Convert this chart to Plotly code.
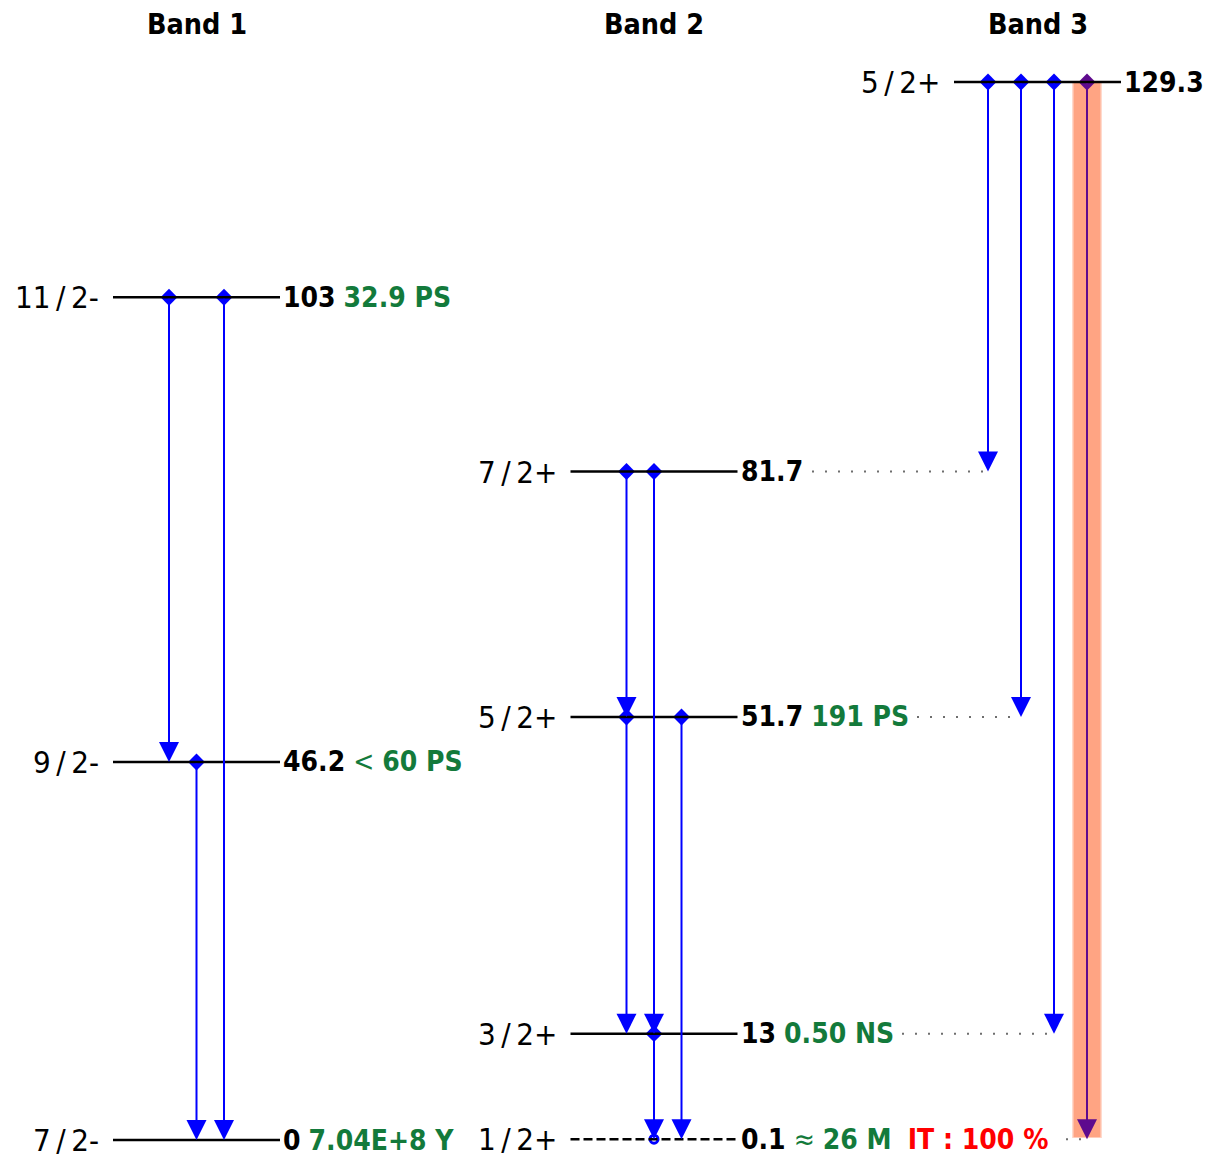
import plotly.graph_objects as go

# ---------------- level scheme data ----------------
band_names = ["Band 1", "Band 2", "Band 3"]

level_band = [0, 0, 0, 1, 1, 1, 1, 2]
level_energy = [0.0, 46.2, 103.0, 0.1, 13.0, 51.7, 81.7, 129.3]
level_label = ["0", "46.2", "103", "0.1", "13", "51.7", "81.7", "129.3"]
level_spin = ["7/2-", "9/2-", "11/2-", "1/2+", "3/2+", "5/2+", "7/2+", "5/2+"]
level_halflife = ["7.04E+8 Y", "< 60 PS", "32.9 PS", "≈ 26 M", "0.50 NS", "191 PS", "", ""]
level_decay = ["", "", "", "IT : 100 %", "", "", "", ""]
level_isomer = [False, False, False, True, False, False, False, False]

# gamma transitions (index of initial level -> index of final level)
gamma_from = [2, 1, 2, 6, 6, 5, 5, 4, 7, 7, 7, 7]
gamma_to = [1, 0, 0, 5, 4, 4, 3, 3, 6, 5, 4, 3]
gamma_highlight = [False] * 11 + [True]

# ---------------- drawing layout ----------------
BAND_CENTER = [196.5, 654.0, 1037.5]
HALF = 83.5
LANE_STEP = [27.5, 27.5, 33.0]
gamma_lane = [-1, 0, 1, -1, 0, -1, 1, 0, -1.5, -0.5, 0.5, 1.5]
GUIDE_START = {6: 812, 5: 917, 4: 902, 3: 1066}

W, H = 1209, 1162
PX_PER_KEV = 8.182
BASE_PX = 1140
Y_TOP = BASE_PX / PX_PER_KEV
Y_BOTTOM = -(H - BASE_PX) / PX_PER_KEV

BLUE = "#0000ff"
PURPLE = "#5e0a8e"
GREEN = "#137a3b"
RED = "#ff0000"
FONT = "Liberation Sans Narrow, DejaVu Sans Condensed, Arial Narrow, sans-serif"
THIN = "\u2009"


def lane_x(k):
    b = level_band[gamma_from[k]]
    return BAND_CENTER[b] + gamma_lane[k] * LANE_STEP[b]


def spin_text(s):
    return s.replace("/", THIN + "/" + THIN)


def level_text(i):
    parts = [f"<b>{level_label[i]}</b>"]
    hl = level_halflife[i]
    if hl:
        if hl[0] in "<≈":
            sym = "&lt;" if hl[0] == "<" else hl[0]
            parts.append(f"<span style='color:{GREEN}'>{sym} <b>{hl[2:]}</b></span>")
        else:
            parts.append(f"<span style='color:{GREEN}'><b>{hl}</b></span>")
    if level_decay[i]:
        parts.append(f" <span style='color:{RED}'><b>{level_decay[i]}</b></span>")
    return " ".join(parts)


fig = go.Figure()
shapes = []
annotations = []

# highlighted transition band (soft edge + core)
for k in range(len(gamma_from)):
    if gamma_highlight[k]:
        x = lane_x(k)
        y0 = level_energy[gamma_to[k]] + 0.25
        y1 = level_energy[gamma_from[k]]
        shapes.append(dict(type="rect", xref="x", yref="y", layer="below",
                           x0=x - 15, x1=x + 15, y0=y0 - 0.1, y1=y1,
                           fillcolor="rgba(255,150,112,0.35)", line=dict(width=0)))
        shapes.append(dict(type="rect", xref="x", yref="y", layer="below",
                           x0=x - 13.5, x1=x + 13.5, y0=y0, y1=y1,
                           fillcolor="rgba(255,150,112,0.8)", line=dict(width=0)))

# level lines
for i, e in enumerate(level_energy):
    c = BAND_CENTER[level_band[i]]
    shapes.append(dict(type="line", xref="x", yref="y", x0=c - HALF, x1=c + HALF, y0=e, y1=e,
                       line=dict(color="black", width=2.5,
                                 dash="9px,4px" if level_isomer[i] else "solid")))

# dotted guides for transitions ending in another band
for k in range(len(gamma_from)):
    f, t = gamma_from[k], gamma_to[k]
    if level_band[f] != level_band[t] and t in GUIDE_START:
        shapes.append(dict(type="line", xref="x", yref="y",
                           x0=GUIDE_START[t], x1=lane_x(k) - 2,
                           y0=level_energy[t], y1=level_energy[t],
                           line=dict(color="#6e6e6e", width=2, dash="2px,11px")))

# transition arrows
for k in range(len(gamma_from)):
    x = lane_x(k)
    col = PURPLE if gamma_highlight[k] else BLUE
    annotations.append(dict(x=x, y=level_energy[gamma_to[k]], ax=x, ay=level_energy[gamma_from[k]],
                            xref="x", yref="y", axref="x", ayref="y", text="",
                            showarrow=True, arrowhead=2, arrowsize=2.0, arrowwidth=2,
                            arrowcolor=col, standoff=0, startstandoff=0))

# start points of transitions
fig.add_trace(go.Scatter(
    x=[lane_x(k) for k in range(len(gamma_from))],
    y=[level_energy[gamma_from[k]] for k in range(len(gamma_from))],
    mode="markers",
    marker=dict(symbol="diamond", size=13,
                color=[PURPLE if h else BLUE for h in gamma_highlight], line=dict(width=0)),
    hoverinfo="skip", showlegend=False))

# isomeric level marker
iso = [i for i in range(len(level_energy)) if level_isomer[i]]
fig.add_trace(go.Scatter(
    x=[BAND_CENTER[level_band[i]] for i in iso], y=[level_energy[i] for i in iso],
    mode="markers", marker=dict(symbol="circle-open", size=8, color=BLUE, line=dict(width=3)),
    hoverinfo="skip", showlegend=False))

# level labels
for i, e in enumerate(level_energy):
    c = BAND_CENTER[level_band[i]]
    annotations.append(dict(x=c - HALF - 12, y=e, xref="x", yref="y", text=spin_text(level_spin[i]),
                            showarrow=False, xanchor="right", yanchor="middle",
                            font=dict(family=FONT, size=31, color="black")))
    annotations.append(dict(x=c + HALF + 1, y=e, xref="x", yref="y", text=level_text(i),
                            showarrow=False, xanchor="left", yanchor="middle",
                            font=dict(family=FONT, size=28, color="black")))

# band headers
for b, name in enumerate(band_names):
    annotations.append(dict(x=BAND_CENTER[b], y=1 - 25 / H, xref="x", yref="paper",
                            text=f"<b>{name}</b>", showarrow=False,
                            xanchor="center", yanchor="middle",
                            font=dict(family=FONT, size=28.5, color="black")))

fig.update_layout(
    width=W, height=H, margin=dict(l=0, r=0, t=0, b=0),
    paper_bgcolor="white", plot_bgcolor="white",
    xaxis=dict(range=[0, W], visible=False, fixedrange=True),
    yaxis=dict(range=[Y_BOTTOM, Y_TOP], visible=False, fixedrange=True),
    shapes=shapes, annotations=annotations, showlegend=False,
)

fig.write_html("out.html")
